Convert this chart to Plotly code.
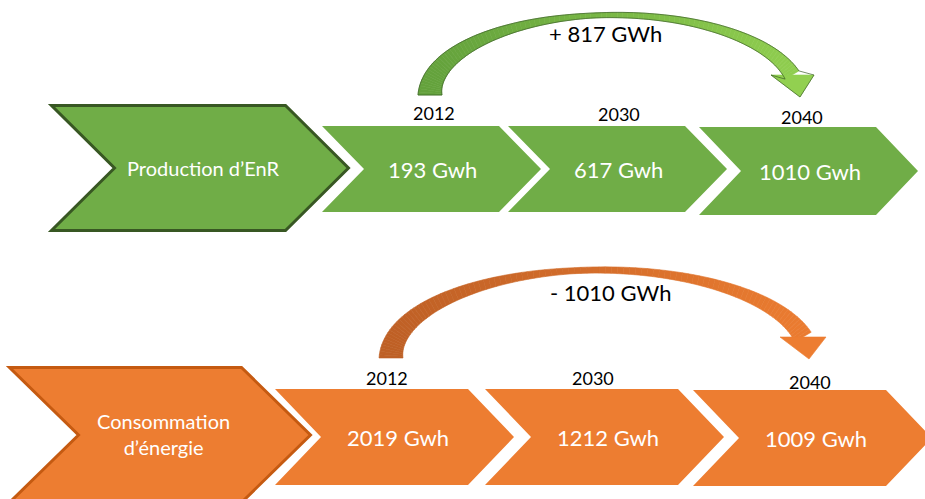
import numpy as np
import plotly.graph_objects as go

# ---------------- data ----------------
row_titles = ["Production d’EnR", "Consommation<br>d’énergie"]
years = ["2012", "2030", "2040"]
enr_values = [193, 617, 1010]
conso_values = [2019, 1212, 1009]
unit = "Gwh"
enr_delta = "+ 817 GWh"
conso_delta = "- 1010 GWh"

# ---------------- layout / style ----------------
W, H = 925, 499
FONT = "Lato, 'Open Sans', sans-serif"

rows = [
    dict(title=row_titles[0], values=enr_values, delta=enr_delta,
         fill="#70AD47", border="#385723",
         big=dict(x0=50, tw=237, depth=63, top=104, bot=232), title_y=168,
         small_x=[322, 508, 699], small_tw=177, small_depth=42,
         small_top=[126, 126, 127], small_bot=[212, 212, 215],
         year_x=[434, 619, 802], year_y=[113, 114, 117],
         val_dx=1,
         arrow=dict(S=(430, 95), E=(792, 75), apex=15, w0=24, wmin=5, w1=16,
                    head=[(771, 75), (814, 75), (800, 97)],
                    c0="#62A03B", c1="#92D050", outline="#3B5E27"),
         delta_xy=(605, 33)),
    dict(title=row_titles[1], values=conso_values, delta=conso_delta,
         fill="#ED7D31", border="#C55A11",
         big=dict(x0=8, tw=235, depth=69, top=366, bot=504), title_y=434,
         small_x=[275, 485, 693], small_tw=193, small_depth=46,
         small_top=[389, 389, 390], small_bot=[485, 485, 486],
         year_x=[387, 593, 810], year_y=[378, 378, 382],
         val_dx=3,
         arrow=dict(S=(391, 358), E=(803, 337), apex=270, w0=24, wmin=6, w1=19,
                    head=[(780, 337), (826, 337), (809, 359)],
                    c0="#BD5F25", c1="#ED7D31", outline=None),
         delta_xy=(610, 292)),
]


def chevron_path(x0, tw, depth, top, bot):
    mid = (top + bot) / 2
    pts = [(x0, top), (x0 + tw, top), (x0 + tw + depth, mid),
           (x0 + tw, bot), (x0, bot), (x0 + depth, mid)]
    return "M " + " L ".join(f"{x:.1f},{y:.1f}" for x, y in pts) + " Z"


def lerp_color(c0, c1, f):
    f = max(0.0, min(1.0, f))
    a = [int(c0[i:i + 2], 16) for i in (1, 3, 5)]
    b = [int(c1[i:i + 2], 16) for i in (1, 3, 5)]
    return "rgb(%d,%d,%d)" % tuple(round(a[k] + (b[k] - a[k]) * f) for k in range(3))


def arrow_shapes(a):
    Sx, Sy = a["S"]
    Ex, Ey = a["E"]
    b = Sy - a["apex"]
    th_end = np.arcsin((Sy - Ey) / b)
    ax = (Ex - Sx) / (1 + np.cos(th_end))
    cx = Sx + ax
    th = np.linspace(np.pi, th_end, 101)
    t = (np.pi - th) / (np.pi - th_end)
    B = np.stack([cx + ax * np.cos(th), Sy - b * np.sin(th)], axis=1)
    # outward normal of ellipse (y down)
    N = np.stack([np.cos(th) / ax, -np.sin(th) / b], axis=1)
    N = N / np.linalg.norm(N, axis=1)[:, None]
    tm = 0.5
    w = np.where(t < tm,
                 a["wmin"] + (a["w0"] - a["wmin"]) * ((tm - t) / tm) ** 1.3,
                 a["wmin"] + (a["w1"] - a["wmin"]) * ((t - tm) / (1 - tm)) ** 1.6)
    A = B + N * (w / 2)[:, None]   # outer
    C = B - N * (w / 2)[:, None]   # inner
    xmin, xmax = Sx - 12, a["head"][1][0]
    shapes = []
    for i in range(len(t) - 1):
        pts = [A[i], A[i + 1], C[i + 1], C[i]]
        xm = np.mean([p[0] for p in pts])
        col = lerp_color(a["c0"], a["c1"], (xm - xmin) / (xmax - xmin))
        shapes.append(dict(type="path", xref="x", yref="y",
                           path="M " + " L ".join(f"{p[0]:.2f},{p[1]:.2f}" for p in pts) + " Z",
                           fillcolor=col, line=dict(width=0.6, color=col), layer="above"))
    hl, hr, tip = a["head"]
    hcol = lerp_color(a["c0"], a["c1"], 1.0)
    head_path = "M " + " L ".join(f"{x:.1f},{y:.1f}" for x, y in a["head"]) + " Z"
    shapes.append(dict(type="path", xref="x", yref="y", path=head_path,
                       fillcolor=hcol, line=dict(width=0.6, color=hcol), layer="above"))
    if a["outline"]:
        outer = [tuple(p) for p in A]
        inner = [tuple(p) for p in C][::-1]
        loop = [tuple(C[0])] + outer + [hr, tip, hl] + inner[:-1]
        shapes.append(dict(type="path", xref="x", yref="y",
                           path="M " + " L ".join(f"{x:.1f},{y:.1f}" for x, y in loop) + " Z",
                           fillcolor="rgba(0,0,0,0)", line=dict(width=0.7, color=a["outline"]),
                           layer="above"))
    return shapes


fig = go.Figure()
fig.add_trace(go.Scatter(x=[0, W], y=[0, H], mode="markers", marker=dict(opacity=0),
                         hoverinfo="skip", showlegend=False))

shapes, annotations = [], []
for r in rows:
    b = r["big"]
    shapes.append(dict(type="path", xref="x", yref="y",
                       path=chevron_path(b["x0"] + 1.5, b["tw"] - 3, b["depth"], b["top"] + 1.5, b["bot"] - 1.5),
                       fillcolor=r["fill"], line=dict(color=r["border"], width=3), layer="below"))
    annotations.append(dict(x=b["x0"] + (b["tw"] + b["depth"]) / 2 + 3, y=r["title_y"],
                            text=r["title"], showarrow=False,
                            font=dict(family=FONT, size=20, color="white")))
    for i, x0 in enumerate(r["small_x"]):
        top, bot = r["small_top"][i], r["small_bot"][i]
        shapes.append(dict(type="path", xref="x", yref="y",
                           path=chevron_path(x0, r["small_tw"], r["small_depth"], top, bot),
                           fillcolor=r["fill"], line=dict(width=0), layer="below"))
        annotations.append(dict(x=x0 + (r["small_tw"] + r["small_depth"]) / 2 + r["val_dx"],
                                y=(top + bot) / 2,
                                text=f"{r['values'][i]} {unit}", showarrow=False,
                                font=dict(family=FONT, size=22, color="white")))
        annotations.append(dict(x=r["year_x"][i], y=r["year_y"][i], text=years[i], showarrow=False,
                                font=dict(family=FONT, size=18, color="black")))
    shapes.extend(arrow_shapes(r["arrow"]))
    annotations.append(dict(x=r["delta_xy"][0], y=r["delta_xy"][1], text=r["delta"], showarrow=False,
                            font=dict(family=FONT, size=22, color="black")))

fig.update_layout(
    width=W, height=H, margin=dict(l=0, r=0, t=0, b=0),
    paper_bgcolor="white", plot_bgcolor="white",
    xaxis=dict(range=[0, W], visible=False, fixedrange=True),
    yaxis=dict(range=[H, 0], visible=False, fixedrange=True),
    shapes=shapes, annotations=annotations, showlegend=False,
)
fig.write_html("out.html", config=dict(displayModeBar=False),
               post_script="document.body.style.margin='0';document.body.style.overflow='hidden';")
